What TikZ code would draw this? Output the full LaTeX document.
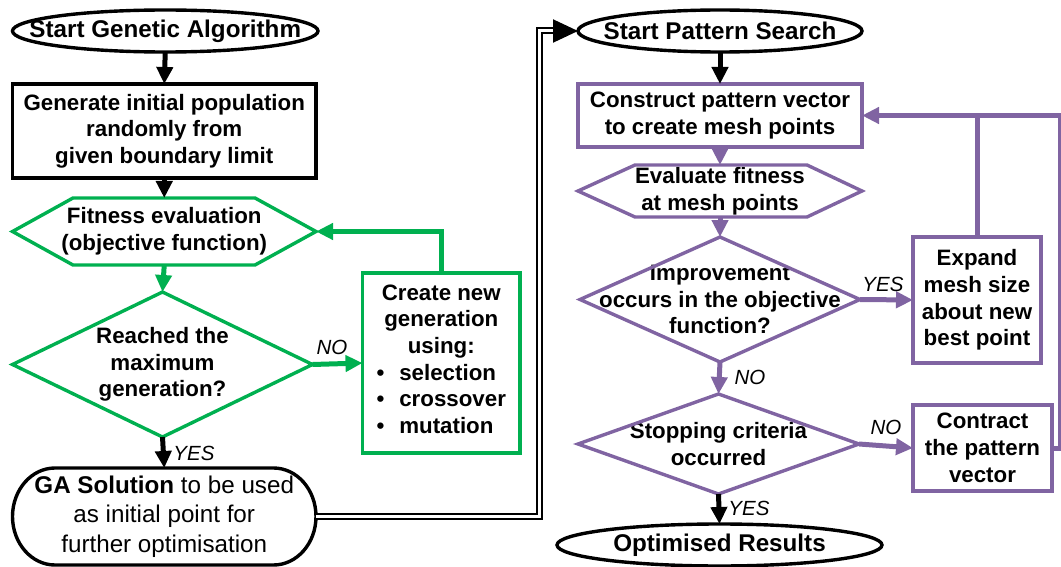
\documentclass[tikz,border=0pt]{standalone}
\usepackage{fontspec}
\setmainfont{Liberation Sans}
\usetikzlibrary{arrows.meta,calc}
\definecolor{gagreen}{HTML}{00B050}
\definecolor{pspurple}{HTML}{8064A2}
\begin{document}
\begin{tikzpicture}[x=1pt,y=-1pt,
  every node/.style={inner sep=0pt, outer sep=0pt, align=center},
  lt/.style={font=\bfseries\fontsize{22.3}{26.7}\selectfont},
  rt/.style={font=\bfseries\fontsize{22.3}{26.7}\selectfont},
  bigt/.style={font=\bfseries\fontsize{24.2}{26}\selectfont},
  bd/.style={line width=3.4pt},
  con/.style={line width=5pt, -{Triangle[width=16pt,length=17pt]}},
  plain/.style={line width=5pt},
  dbl/.style={draw=black, double=white, line width=2pt, double distance=3pt},
  lab/.style={font=\itshape\fontsize{20.5}{22}\selectfont},
]
\useasboundingbox (0,0) rectangle (1061,567);

% ---------------- GA side ----------------
\node[bigt, minimum width=305.5, minimum height=42] (startGA) at (165.25,31) {Start Genetic Algorithm};
\draw[bd] (startGA.center) ellipse [x radius=152.75, y radius=21];

\node[lt, draw, bd, minimum width=303.5, minimum height=94] (gen) at (164.25,131) {Generate initial population\\randomly from\\given boundary limit};

\node[lt, minimum width=303.5, minimum height=67] (fit) at (164.25,231.5) {Fitness evaluation\\(objective function)};
\draw[bd, gagreen] ($(fit.north west)+(60.5,0)$) -- ($(fit.north east)+(-61,0)$) -- (fit.east) -- ($(fit.south east)+(-61,0)$) -- ($(fit.south west)+(60.5,0)$) -- (fit.west) -- cycle;

\node[lt, minimum width=300, minimum height=145] (reach) at (162.5,364.5) {Reached the\\maximum\\generation?};
\draw[bd, gagreen] (reach.north) -- (reach.east) -- (reach.south) -- (reach.west) -- cycle;

\node[lt, draw=gagreen, bd, minimum width=157.5, minimum height=180] (create) at (441.25,363) {Create new\\generation\\using:\\ \begin{tabular}[t]{@{}l@{\hspace{15pt}}l@{}}\textbullet&selection\\\textbullet&crossover\\\textbullet&mutation\end{tabular}};

\node[font=\fontsize{24.2}{29.5}\selectfont, minimum width=303.5, minimum height=97] (gasol) at (164.25,516.5) {\textbf{GA Solution} to be used\\as initial point for\\further optimisation};
\draw[bd] (55,468) -- (273.5,468) arc[start angle=-90,end angle=90,x radius=42.5,y radius=48.5] -- (55,565) arc[start angle=90,end angle=270,x radius=42.5,y radius=48.5] -- cycle;

% ---------------- PS side ----------------
\node[bigt, minimum width=284, minimum height=42] (startPS) at (720,31) {Start Pattern Search};
\draw[bd] (startPS.center) ellipse [x radius=142, y radius=21];

\node[rt, draw=pspurple, bd, minimum width=284, minimum height=63] (construct) at (720,115.5) {Construct pattern vector\\to create mesh points};

\node[rt, minimum width=284, minimum height=52] (evaluate) at (720,191) {Evaluate fitness\\at mesh points};
\draw[bd, pspurple] ($(evaluate.north west)+(57,0)$) -- ($(evaluate.north east)+(-55,0)$) -- (evaluate.east) -- ($(evaluate.south east)+(-55,0)$) -- ($(evaluate.south west)+(57,0)$) -- (evaluate.west) -- cycle;

\node[rt, minimum width=280, minimum height=125] (improve) at (720,299.5) {Improvement\\occurs in the objective\\function?};
\draw[bd, pspurple] (improve.north) -- (improve.east) -- (improve.south) -- (improve.west) -- cycle;

\node[rt, draw=pspurple, bd, minimum width=128, minimum height=126] (expand) at (977,300) {Expand\\mesh size\\about new\\best point};

\node[rt, minimum width=281, minimum height=100] (stop) at (718.5,444) {Stopping criteria\\occurred};
\draw[bd, pspurple] (stop.north) -- (stop.east) -- (stop.south) -- (stop.west) -- cycle;

\node[rt, draw=pspurple, bd, minimum width=139, minimum height=86] (contract) at (982.5,448) {Contract\\the pattern\\vector};

\node[bigt, minimum width=325, minimum height=42] (opt) at (719.5,545) {Optimised Results};
\draw[bd] (opt.center) ellipse [x radius=162.5, y radius=21];

% ---------------- connectors ----------------
\draw[con] (startGA.south) -- (gen.north);
\draw[con] (gen.south) -- (fit.north);
\draw[con, gagreen] (fit.south) -- (reach.north);
\draw[con, gagreen] (reach.east) -- (create.west);
\draw[con, gagreen] (create.north) |- (fit.east);
\draw[con] (reach.south) -- (gasol.north);

\coordinate (dbend) at (539.5,31);
\coordinate (dend) at (553,31);
\draw[dbl] (gasol.east) -| (dbend) -- (dend);
\draw[line width=2pt, -{Triangle[width=23pt,length=25pt]}] (dend) -- (startPS.west);

\draw[con] (startPS.south) -- (construct.north);
\draw[con, pspurple] (construct.south) -- (evaluate.north);
\draw[con, pspurple] (evaluate.south) -- (improve.north);
\draw[con, pspurple] (improve.east) -- (expand.west);
\draw[con, pspurple] (improve.south) -- (stop.north);
\draw[con, pspurple] (stop.east) -- (contract.west);
\draw[con] (stop.south) -- (opt.north);

\coordinate (rtop) at (1060,115.5);
\draw[plain, pspurple] (expand.north) -- (expand.north |- rtop);
\draw[con, pspurple] (contract.east) -| (rtop) -- (construct.east);

% ---------------- labels ----------------
\node[lab] (lno1) at (332,347) {NO};
\node[lab] (lyes1) at (194,453) {YES};
\node[lab] (lyes2) at (883,284) {YES};
\node[lab] (lno2) at (750,377) {NO};
\node[lab] (lno3) at (886,427) {NO};
\node[lab] (lyes3) at (749,508) {YES};
\end{tikzpicture}
\end{document}
